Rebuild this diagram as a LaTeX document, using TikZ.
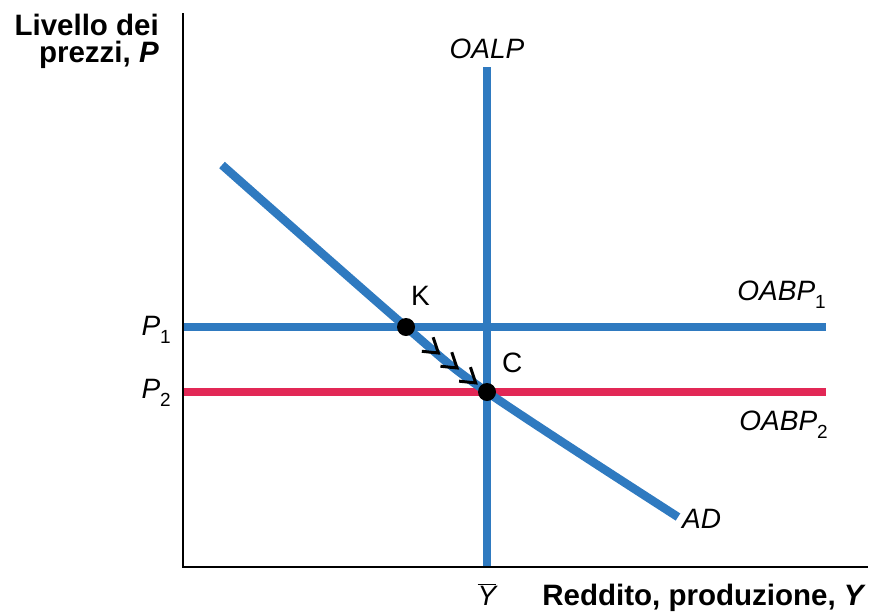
\documentclass[tikz,border=0pt]{standalone}
\usepackage{fontspec}
\setmainfont{Liberation Sans}
\definecolor{cblue}{RGB}{47,122,192}
\definecolor{cred}{RGB}{226,40,86}
\newcommand\mysub[1]{\raisebox{-8pt}{\fontsize{19}{19}\selectfont\upshape #1}}
\begin{document}
\begin{tikzpicture}[x=1pt,y=-1pt,
  bluecurve/.style={line width=8.5pt,draw=cblue},
  redcurve/.style={line width=8.5pt,draw=cred},
  axisline/.style={line width=1.8pt,draw=black},
  dot/.style={circle,fill=black,minimum size=18pt,inner sep=0pt},
  chevron/.style={line width=3pt,draw=black,line join=miter},
  itlab/.style={font=\fontsize{28}{30}\selectfont\itshape,inner sep=0pt},
  uplab/.style={font=\fontsize{28}{30}\selectfont,inner sep=0pt},
  boldlab/.style={font=\fontsize{29.5}{27}\selectfont\bfseries,inner sep=0pt}
]
\useasboundingbox (0,0) rectangle (874,614);

% coordinates
\coordinate (O) at (183,567);
\coordinate (ytop) at (183,13);
\coordinate (xend) at (868,567);
\coordinate (lrtop) at (487,67);
\coordinate (lrbot) at (487,567);
\coordinate (p1a) at (183,327);
\coordinate (p1b) at (826,327);
\coordinate (p2a) at (183,392);
\coordinate (p2b) at (826,392);
\coordinate (ad0) at (222,165);
\coordinate (K) at (406,327);
\coordinate (C) at (487,392);
\coordinate (ad1) at (678,517);

% curves
\draw[bluecurve] (lrtop) -- (lrbot);
\draw[bluecurve] (p1a) -- (p1b);
\draw[redcurve] (p2a) -- (p2b);
\draw[bluecurve] plot[smooth,tension=0.55] coordinates {(ad0) (K) (C) (ad1)};

% movement arrows
\path (K) -- (C) coordinate[pos=0.40] (ch1) coordinate[pos=0.63] (ch2) coordinate[pos=0.86] (ch3);
\foreach \c in {ch1,ch2,ch3}{
  \draw[chevron,shift={(\c)},rotate=-38.75] (-14,-9) -- (0,0) -- (-14,9);
}

% axes
\draw[axisline] (ytop) -- (O) -- (xend);

% dots
\node[dot] (Kdot) at (K) {};
\node[dot] (Cdot) at (C) {};

% labels
\node[boldlab,anchor=north east,align=right] (ylab) at (159,14) {Livello dei\\prezzi, \textit{P}};
\node[boldlab,anchor=base east] (xlab) at (866,605) {Reddito, produzione, \textit{Y}};
\node[itlab,anchor=base] (oalp) at (487,58) {OALP};
\node[uplab,anchor=base west] (klab) at (411,305) {K};
\node[uplab,anchor=base west] (clab) at (502,372) {C};
\node[itlab,anchor=base east] (p1lab) at (171,335) {P\mysub{1}};
\node[itlab,anchor=base east] (p2lab) at (171,398) {P\mysub{2}};
\node[itlab,anchor=base east] (oabp1) at (826,300) {OABP\mysub{1}};
\node[itlab,anchor=base east] (oabp2) at (828,430) {OABP\mysub{2}};
\node[itlab,anchor=base west] (adlab) at (682,528) {AD};
\node[itlab,anchor=base] (ybar) at (487,605) {$\overline{\hbox{\fontsize{28}{30}\selectfont\itshape Y}}$};
\end{tikzpicture}
\end{document}
